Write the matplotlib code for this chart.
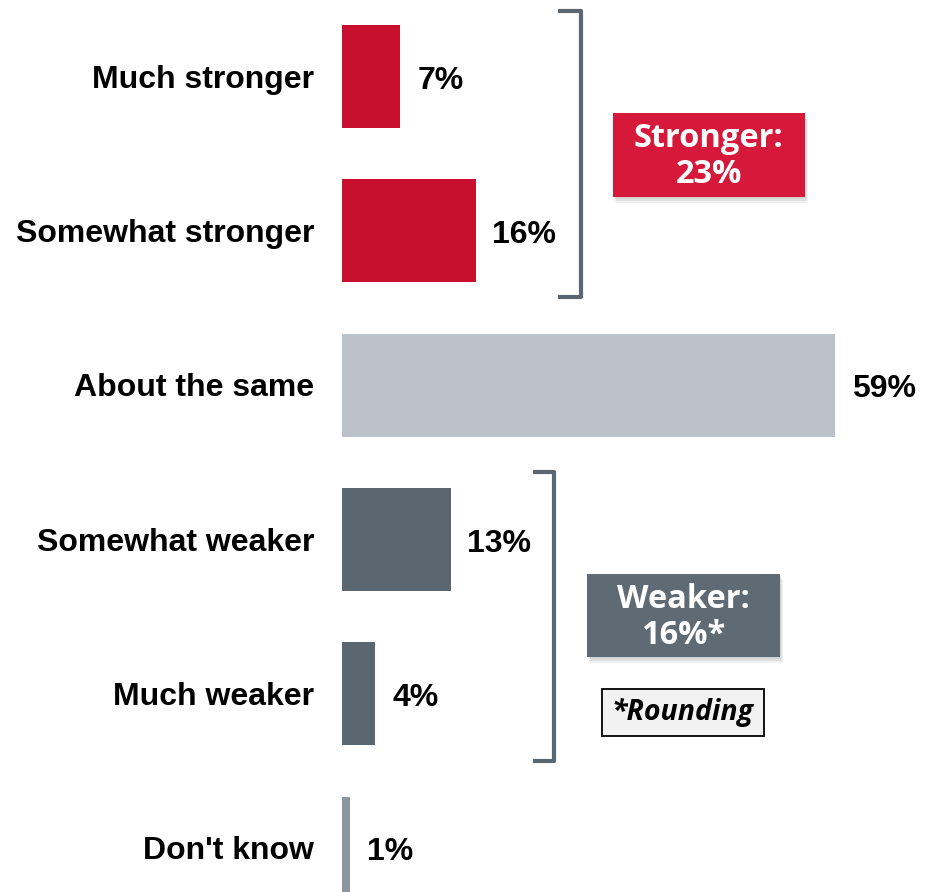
#!/usr/bin/env python3

import matplotlib
matplotlib.use('Agg')
import matplotlib.pyplot as plt
from matplotlib.patches import Rectangle

categories = ["Much stronger", "Somewhat stronger", "About the same",
              "Somewhat weaker", "Much weaker", "Don't know"]
values = [7, 16, 59, 13, 4, 1]
bar_colors = ['#C8102E', '#C8102E', '#BBC2CA', '#5B6770', '#5B6770', '#8D959E']

stronger_label = "Stronger:\n23%"
weaker_label = "Weaker:\n16%*"
rounding_note = "*Rounding"

label_font = 'Liberation Sans'
box_font = 'Open Sans'

fig = plt.figure(figsize=(9.3, 8.92), dpi=100)
ax = fig.add_axes([0, 0, 1, 1])
ax.set_xlim(-40.93, 70.37)
ax.set_ylim(5.285, -0.496)
ax.axis('off')

ypos = list(range(len(categories)))
ax.barh(ypos, values, height=0.667, color=bar_colors)

# labels sit on a baseline ~11px below the bar centre
for y, cat, v in zip(ypos, categories, values):
    ax.text(-3.35, y + 0.073, cat, ha='right', va='baseline', fontsize=23,
            fontweight='bold', family=label_font, color='black')
    ax.text(v + 2.0, y + 0.08, "%d%%" % v, ha='left', va='baseline', fontsize=23,
            fontweight='bold', family=label_font, color='black')

# brackets
def bracket(x_arm, x_line, y_top, y_bot):
    ax.plot([x_arm, x_line, x_line, x_arm], [y_top, y_top, y_bot, y_bot],
            color='#5B6770', lw=3, solid_joinstyle='round', solid_capstyle='butt')

bracket(25.85, 28.6, -0.424, 1.427)
bracket(22.86, 25.37, 2.563, 4.434)

# summary boxes with a soft shadow
def summary_box(xc, yc, w, h, color, text):
    for i, a in enumerate([0.06, 0.06, 0.06]):
        d = 0.12 * (i + 1)
        ax.add_patch(Rectangle((xc - w / 2 + d, yc - h / 2 + 0.012 * (i + 1)), w, h,
                               facecolor='#000000', alpha=a, lw=0))
    ax.add_patch(Rectangle((xc - w / 2, yc - h / 2), w, h,
                           facecolor=color, lw=0))
    ax.text(xc, yc + 0.01, text, ha='center', va='center', fontsize=23.5,
            fontweight='bold', family=box_font, color='white', linespacing=1.12)

summary_box(43.9, 0.509, 23.0, 0.544, '#D6193A', stronger_label)
summary_box(40.85, 3.495, 23.1, 0.538, '#5F6B74', weaker_label)

ax.add_patch(Rectangle((40.8 - 19.46 / 2, 4.123 - 0.303 / 2), 19.46, 0.303,
                       facecolor='#F2F2F2', edgecolor='black', lw=1.3))
ax.text(40.8, 4.123, rounding_note, ha='center', va='center', fontsize=20.5,
        fontweight='bold', fontstyle='italic', family=box_font, color='black')

plt.savefig('out.png', dpi=100)
